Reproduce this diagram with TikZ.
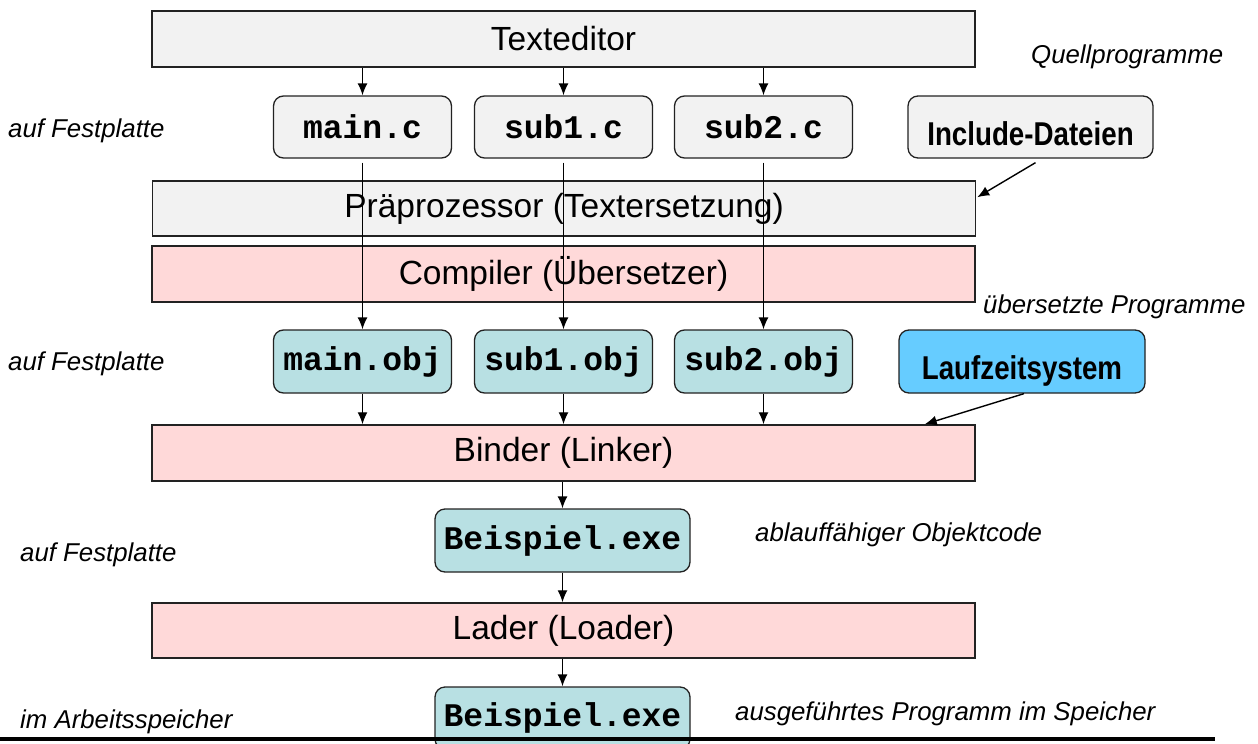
\documentclass[tikz,border=0pt]{standalone}
\usepackage{fontspec}
\setmainfont{Liberation Sans}
\newfontfamily\monob{Liberation Mono}
\newfontfamily\narrowb[FakeStretch=0.84]{Liberation Sans}
\usetikzlibrary{arrows.meta,calc}
\definecolor{boxgrey}{HTML}{F2F2F2}
\definecolor{boxpink}{HTML}{FFD9D9}
\definecolor{boxteal}{HTML}{B8E0E3}
\definecolor{boxblue}{HTML}{66CCFF}
\definecolor{edge}{HTML}{222222}
\newcommand{\lowtext}[1]{\raisebox{-18pt}[0pt][0pt]{#1}}
\tikzset{
  bar/.style={draw=edge, line width=1.5pt, minimum width=823pt, minimum height=56pt, inner sep=0pt,
    font=\fontsize{33.5}{38}\selectfont},
  greybar/.style={bar, fill=boxgrey},
  pinkbar/.style={bar, fill=boxpink},
  filebox/.style={draw=edge, line width=1.3pt, rounded corners=10pt, minimum width=178pt, minimum height=62pt,
    inner sep=0pt, font=\monob\bfseries\fontsize{33}{38}\selectfont},
  srcbox/.style={filebox, fill=boxgrey},
  objbox/.style={filebox, fill=boxteal},
  extbox/.style={draw=edge, line width=1.3pt, rounded corners=10pt, minimum width=245pt, minimum height=62pt,
    inner sep=0pt, font=\narrowb\bfseries\fontsize{33}{38}\selectfont},
  lbl/.style={anchor=base west, inner sep=0pt, font=\fontsize{25.8}{30}\selectfont\itshape},
  arr/.style={draw=black, line width=1.4pt, -{Latex[length=12pt,width=10pt]}},
}
\begin{document}
\begin{tikzpicture}[x=1pt,y=-1pt]
\useasboundingbox (0,0) rectangle (1258,744);
% bars
\node[greybar] (te) at (563.5,39) {Texteditor};
\node[greybar, minimum height=55pt] (pre) at (564,208.5) {Präprozessor (Textersetzung)};
\node[pinkbar] (comp) at (563.5,274) {Compiler (Übersetzer)};
\node[pinkbar] (bind) at (563.5,453) {Binder (Linker)};
\node[pinkbar, minimum height=55pt] (lader) at (563.5,630.5) {Lader (Loader)};
% source files
\node[srcbox] (mainc) at (362.5,127) {main.c};
\node[srcbox] (subac) at (563.5,127) {sub1.c};
\node[srcbox] (subbc) at (763.5,127) {sub2.c};
\node[extbox, fill=boxgrey] (inc) at (1030.5,127) {\lowtext{Include-Dateien}};
% object files
\node[objbox, minimum height=63pt] (mainobj) at (362.5,361.5) {main.obj};
\node[objbox, minimum height=63pt] (subaobj) at (563.5,361.5) {sub1.obj};
\node[objbox, minimum height=63pt] (subbobj) at (763.5,361.5) {sub2.obj};
\node[extbox, fill=boxblue, minimum width=246pt, minimum height=63pt] (lz) at (1022,361.5) {\lowtext{Laufzeitsystem}};
% executables
\node[objbox, minimum width=255pt, minimum height=63pt] (bspa) at (562.5,540.5) {Beispiel.exe};
\node[objbox, minimum width=255pt, minimum height=62pt] (bspb) at (562.5,718) {Beispiel.exe};
% labels
\node[lbl] (l1) at (1031,63) {Quellprogramme};
\node[lbl] (l2) at (8,137) {auf Festplatte};
\node[lbl] (l3) at (983,313) {übersetzte Programme};
\node[lbl] (l4) at (8,370) {auf Festplatte};
\node[lbl] (l5) at (755,541) {ablauffähiger Objektcode};
\node[lbl] (l6) at (20,561) {auf Festplatte};
\node[lbl] (l7) at (735,720) {ausgeführtes Programm im Speicher};
\node[lbl] (l8) at (20,728) {im Arbeitsspeicher};
% arrows
\foreach \f in {mainc,subac,subbc} {
  \draw[arr] (te.south -| \f.center) -- (\f.north);
}
\draw[arr, shorten <=4pt] (mainc.south) -- (mainobj.north);
\draw[arr, shorten <=4pt] (subac.south) -- (subaobj.north);
\draw[arr, shorten <=4pt] (subbc.south) -- (subbobj.north);
\foreach \f in {mainobj,subaobj,subbobj} {
  \draw[arr] (\f.south) -- (bind.north -| \f.center);
}
\coordinate (incA) at ($(inc.south)+(5,4)$);
\coordinate (incB) at ($(pre.north east)+(1,17)$);
\draw[arr] (incA) -- (incB);
\coordinate (lzA) at ($(lz.south)+(2,0)$);
\coordinate (lzB) at ($(bind.north east)+(-51,0)$);
\draw[arr] (lzA) -- (lzB);
\draw[arr] (bind.south -| bspa.center) -- (bspa.north);
\draw[arr] (bspa.south) -- (lader.north -| bspa.center);
\draw[arr] (lader.south -| bspb.center) -- (bspb.north);
% base line
\draw[line width=4pt] (0,739) -- (1215,739);
\end{tikzpicture}
\end{document}
